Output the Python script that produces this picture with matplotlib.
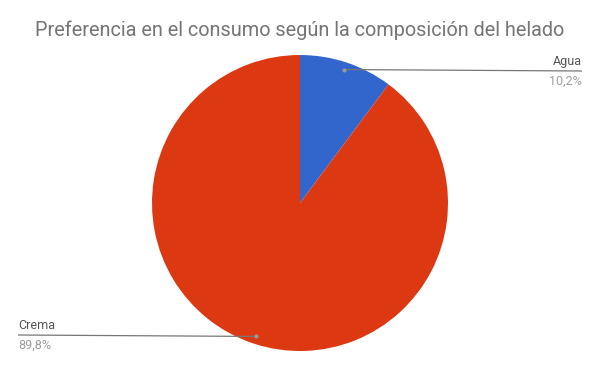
import matplotlib
matplotlib.use("Agg")
import matplotlib.pyplot as plt
import numpy as np

plt.rcParams['font.family'] = ['Roboto', 'DejaVu Sans']

categories = ["Agua", "Crema"]
values = [10.2, 89.8]
pct_labels = ["10,2%", "89,8%"]
colors = ["#3366CC", "#DC3912"]
title = "Preferencia en el consumo según la composición del helado"

W, H = 600, 371
fig = plt.figure(figsize=(W / 100, H / 100), dpi=100)
ax = fig.add_axes([0, 0, 1, 1])

cx, cy, R = 300, H - 203, 148
wedges, _ = ax.pie(values, colors=colors, startangle=90, counterclock=False,
                   center=(cx, cy), radius=R, frame=True,
                   wedgeprops=dict(linewidth=0))
ax.set_xlim(0, W)
ax.set_ylim(0, H)
ax.set_aspect('auto')
ax.axis('off')

label_ends = [(582, H - 71, 'right'), (18, H - 335, 'left')]
for w, cat, pct, (ex, ey, ha) in zip(wedges, categories, pct_labels, label_ends):
    mid = np.deg2rad((w.theta1 + w.theta2) / 2)
    dx_ = cx + 0.95 * R * np.cos(mid)
    dy_ = cy + 0.95 * R * np.sin(mid)
    ax.plot([dx_, ex], [dy_, ey], color="#777777", lw=0.9, solid_capstyle='butt')
    ax.plot([dx_], [dy_], 'o', color="#999999", ms=3, mec='none')
    ax.text(ex, ey + 3, cat, ha=ha, va='bottom', fontsize=9, color="#555555")
    ax.text(ex, ey - 4, pct, ha=ha, va='top', fontsize=9, color="#9e9e9e")

fig.text(0.5, 1 - 30 / H, title, ha='center', va='center', fontsize=14.3, color="#757575")

fig.savefig("out.png", dpi=100)
